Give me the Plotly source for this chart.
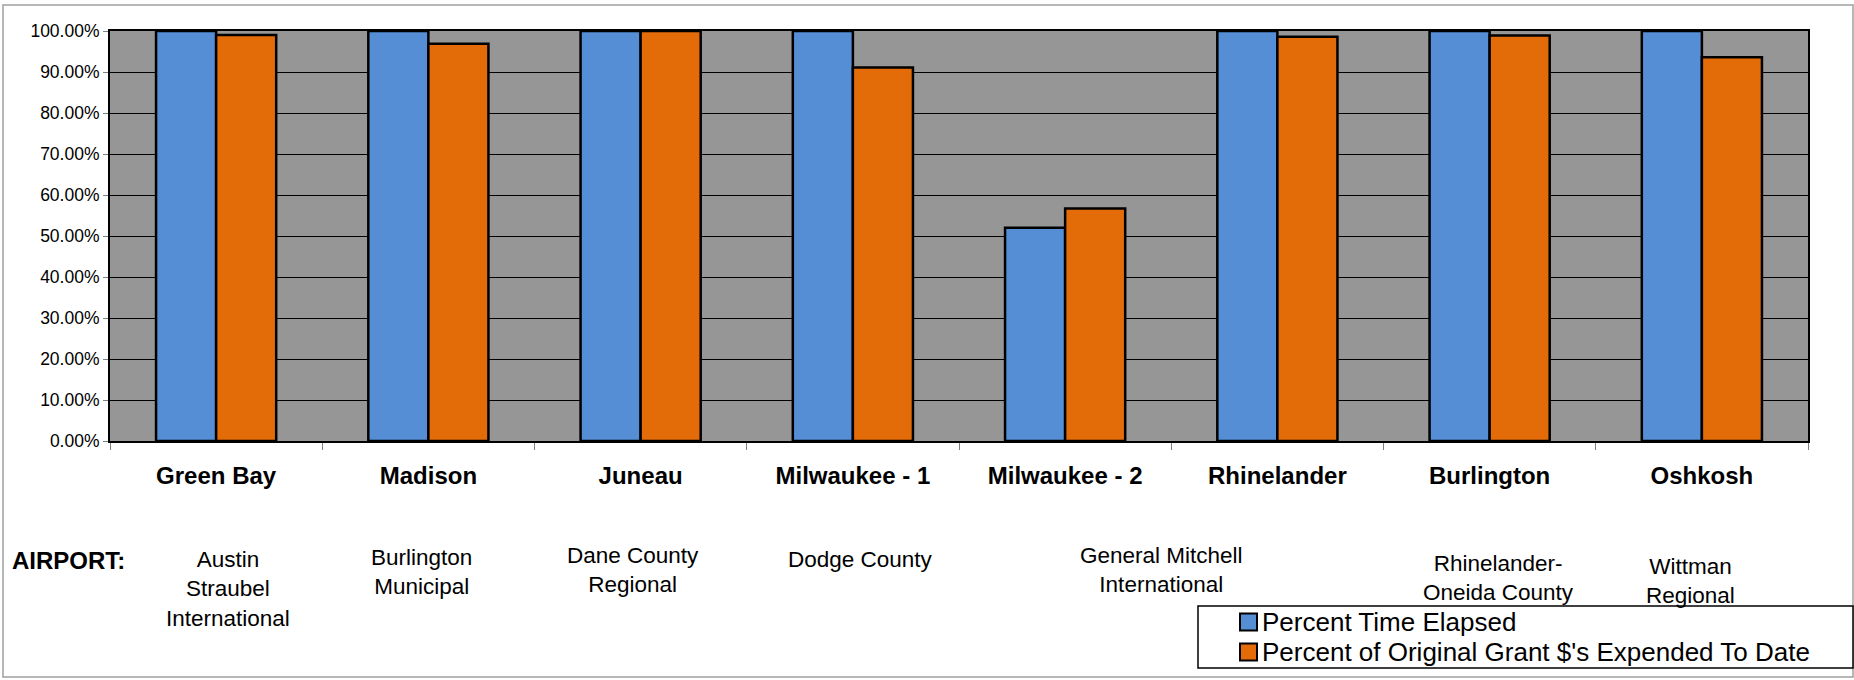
import plotly.graph_objects as go

# ---------------- data ----------------
categories = ["Green Bay", "Madison", "Juneau", "Milwaukee - 1", "Milwaukee - 2",
              "Rhinelander", "Burlington", "Oshkosh"]
time_elapsed = [1.00, 1.00, 1.00, 1.00, 0.520, 1.00, 1.00, 1.00]
grant_expended = [0.990, 0.969, 1.00, 0.911, 0.567, 0.986, 0.989, 0.936]
series_names = ["Percent Time Elapsed", "Percent of Original Grant $'s Expended To Date"]
airport_labels = ["Austin<br>Straubel<br>International", "Burlington<br>Municipal",
                  "Dane County<br>Regional", "Dodge County", "General Mitchell<br>International",
                  "Rhinelander-<br>Oneida County", "Wittman<br>Regional"]
y_ticks = [0, 0.1, 0.2, 0.3, 0.4, 0.5, 0.6, 0.7, 0.8, 0.9, 1.0]

# ---------------- layout geometry (pixels) ----------------
W, H = 1854, 680
L, R, T, B = 110, 46, 31, 239
PW, PH = W - L - R, H - T - B


def px(x):
    return (x - L) / PW


def py(y):
    return (H - B - y) / PH


FONT = "Liberation Sans, Arial, sans-serif"
BLUE = "#558ED5"
ORANGE = "#E36C09"
colors = [BLUE, ORANGE]

fig = go.Figure()
fig.add_trace(go.Bar(x=categories, y=time_elapsed, name=series_names[0],
                     marker=dict(color=BLUE, line=dict(color="black", width=2.5))))
fig.add_trace(go.Bar(x=categories, y=grant_expended, name=series_names[1],
                     marker=dict(color=ORANGE, line=dict(color="black", width=2.5))))

# airport annotation placement: (category index offset, top pixel)
airport_pos = [(0.057, 545), (1 - 0.033, 543), (2 - 0.038, 541), (3 + 0.038, 545),
               (4 + 0.453, 541), (6 + 0.042, 549), (7 - 0.052, 552)]
annotations = []
for label, (xi, ytop) in zip(airport_labels, airport_pos):
    annotations.append(dict(x=xi, xref="x", y=py(ytop), yref="paper", text=label,
                            showarrow=False, xanchor="center", yanchor="top",
                            align="center", font=dict(family=FONT, size=22.5, color="black")))
annotations.append(dict(x=px(10), xref="paper", y=py(560), yref="paper", text="<b>AIRPORT:</b>",
                        showarrow=False, xanchor="left", yanchor="middle",
                        font=dict(family=FONT, size=24, color="black")))

shapes = [
    # outer chart border
    dict(type="rect", xref="paper", yref="paper", x0=px(3), x1=px(1853), y0=py(677), y1=py(5),
         line=dict(color="#a0a0a0", width=1.5), layer="below"),
    # legend box
    dict(type="rect", xref="paper", yref="paper", x0=px(1198), x1=px(1853), y0=py(668), y1=py(606),
         line=dict(color="black", width=1.5), fillcolor="white", layer="below"),
]

# legend entries (drawn manually to match the reference's compact legend)
legend_rows = [622, 652]
for name, col, yc in zip(series_names, colors, legend_rows):
    shapes.append(dict(type="rect", xref="paper", yref="paper",
                       x0=px(1240), x1=px(1257), y0=py(yc + 8.5), y1=py(yc - 8.5),
                       fillcolor=col, line=dict(color="black", width=2)))
    annotations.append(dict(x=px(1260), xref="paper", y=py(yc), yref="paper", text=name,
                            showarrow=False, xanchor="left", yanchor="middle",
                            font=dict(family=FONT, size=26, color="black")))

fig.update_layout(
    width=W, height=H,
    margin=dict(l=L, r=R, t=T, b=B, autoexpand=False),
    paper_bgcolor="white",
    plot_bgcolor="#969696",
    barmode="group",
    bargap=0.434,
    bargroupgap=0,
    font=dict(family=FONT, color="black"),
    showlegend=False,
    annotations=annotations,
    shapes=shapes,
    xaxis=dict(showgrid=False, showline=True, linecolor="black", linewidth=2, mirror=True,
               ticks="outside", tickson="boundaries", ticklen=7, tickcolor="#808080",
               tickfont=dict(family=FONT, size=24, color="black", weight="bold"),
               ticklabelstandoff=12),
    yaxis=dict(range=[0, 1], tickvals=y_ticks, tickformat=".2%",
               showgrid=True, gridcolor="black", gridwidth=1,
               showline=True, linecolor="black", linewidth=2, mirror=True,
               ticks="outside", ticklen=5, tickcolor="#808080",
               tickfont=dict(family=FONT, size=17.5, color="black"), zeroline=False),
)

fig.write_html("out.html", config={"displayModeBar": False},
               post_script="document.body.style.margin='0px';")
